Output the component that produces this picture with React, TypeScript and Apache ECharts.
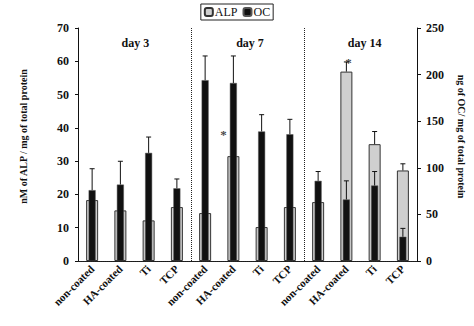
import React, { useEffect, useRef } from "react";
import * as echarts from "echarts";

const categories = [
  "non-coated", "HA-coated", "Ti", "TCP",
  "non-coated", "HA-coated", "Ti", "TCP",
  "non-coated", "HA-coated", "Ti", "TCP",
];
const days = ["day 3", "day 7", "day 14"];
const alp = [18.3, 15.2, 12.2, 16.2, 14.4, 31.5, 10.2, 16.2, 17.7, 56.9, 35.1, 27.2];
const alpErrTop: (number | null)[] = [null, null, null, null, null, null, null, null, null, 59.8, 38.9, 29.2];
const oc = [76, 82, 116, 78, 194, 191, 139, 136, 86, 66, 81, 26];
const ocErrTop = [99, 107, 133, 88, 220, 220, 157, 152, 96, 86, 96, 35];
const stars: [number, number][] = [[5, 39], [9, 60]];
const leftTicks = { min: 0, max: 70, interval: 10 };
const rightTicks = { min: 0, max: 250, interval: 50 };

const FONT = "Liberation Serif";
const GRID = { left: 78, right: 52, top: 28, bottom: 65 };
const WIDTH = 474;
const HEIGHT = 326;
const STAR_OFFSETS = [[-10, 3], [2, 1]];

function errorSeries(top: (number | null)[], base: number[], xi: number, yi: number) {
  return {
    type: "custom",
    xAxisIndex: xi,
    yAxisIndex: yi,
    silent: true,
    z: 5,
    data: top
      .map((t, i) => (t == null ? null : [i, base[i], t]))
      .filter((d) => d !== null),
    renderItem: (params: any, api: any) => {
      const p0 = api.coord([api.value(0), api.value(1)]);
      const p1 = api.coord([api.value(0), api.value(2)]);
      const style = { stroke: "#111", lineWidth: 1 };
      return {
        type: "group",
        children: [
          { type: "line", shape: { x1: p0[0], y1: p0[1], x2: p1[0], y2: p1[1] }, style },
          { type: "line", shape: { x1: p1[0] - 2.5, y1: p1[1], x2: p1[0] + 2.5, y2: p1[1] }, style },
        ],
      };
    },
  };
}

export default function App() {
  const ref = useRef<HTMLDivElement>(null);
  useEffect(() => {
    document.body.style.margin = "0";
    if (!ref.current) return;
    const chart = echarts.init(ref.current, null, { renderer: "svg" });
    const plotW = WIDTH - GRID.left - GRID.right;
    const groupW = plotW / days.length;
    const txt = { fontFamily: FONT, fontWeight: "bold", color: "#111" };
    chart.setOption({
      animation: false,
      backgroundColor: "#fff",
      textStyle: { fontFamily: FONT },
      legend: {
        top: 4,
        left: "center",
        data: ["ALP", "OC"],
        itemWidth: 8,
        itemHeight: 8,
        itemGap: 5,
        padding: [2, 3],
        borderColor: "#222",
        borderWidth: 1,
        textStyle: { fontFamily: FONT, fontSize: 12, color: "#111", padding: [0, 0, 0, -3] },
      },
      grid: { ...GRID, containLabel: false },
      xAxis: [
        {
          type: "category",
          data: categories,
          axisLine: { lineStyle: { color: "#111" } },
          axisTick: { length: 4, lineStyle: { color: "#111" } },
          axisLabel: { rotate: 45, fontSize: 11, margin: 6, interval: 0, ...txt },
          splitLine: {
            show: true,
            interval: (i: number) => i === 4 || i === 8,
            lineStyle: { color: "#222", type: "dotted", width: 1 },
          },
        },
        {
          type: "category",
          data: categories,
          position: "top",
          axisLine: { show: true, lineStyle: { color: "#222", type: "dotted" } },
          axisTick: { show: false },
          axisLabel: { show: false },
        },
      ],
      yAxis: [
        {
          type: "value",
          ...leftTicks,
          name: "nM of ALP / mg of total protein",
          nameLocation: "middle",
          nameGap: 50,
          nameTextStyle: { fontSize: 10, padding: [0, 0, 0, 16], ...txt },
          axisLine: { show: true, lineStyle: { color: "#111" } },
          axisTick: { show: true, length: 3, lineStyle: { color: "#111" } },
          axisLabel: { fontSize: 12, margin: 9, ...txt },
          splitLine: { show: false },
        },
        {
          type: "value",
          ...rightTicks,
          position: "right",
          name: "ng of OC/ mg of total protein",
          nameLocation: "middle",
          nameRotate: -90,
          nameGap: 39,
          nameTextStyle: { fontSize: 10, padding: [0, 16, 0, 0], ...txt },
          axisLine: { show: true, lineStyle: { color: "#111" } },
          axisTick: { show: true, length: 4, lineStyle: { color: "#111" } },
          axisLabel: { fontSize: 12, margin: 9, ...txt },
          splitLine: { show: false },
        },
      ],
      series: [
        {
          name: "ALP",
          type: "bar",
          xAxisIndex: 0,
          yAxisIndex: 0,
          barWidth: 12,
          data: alp,
          z: 2,
          itemStyle: { color: "#cfcfcf", borderColor: "#333", borderWidth: 1 },
        },
        errorSeries(alpErrTop, alp, 0, 0),
        {
          name: "OC",
          type: "bar",
          xAxisIndex: 1,
          yAxisIndex: 1,
          barWidth: 7,
          data: oc,
          z: 3,
          itemStyle: { color: "#111", borderColor: "#555", borderWidth: 0.5 },
        },
        errorSeries(ocErrTop, oc, 1, 1),
        {
          type: "scatter",
          xAxisIndex: 0,
          yAxisIndex: 0,
          symbolSize: 0,
          silent: true,
          z: 6,
          data: stars.map((s, i) => ({
            value: s,
            label: { offset: STAR_OFFSETS[i] },
          })),
          label: {
            show: true,
            position: "inside",
            formatter: "*",
            fontSize: 13,
            ...txt,
          },
        },
      ],
      graphic: days.map((d, g) => ({
        type: "text",
        x: GRID.left + (g + 0.5) * groupW,
        y: 43,
        style: {
          text: d,
          fontFamily: FONT,
          fontWeight: "bold",
          fontSize: 12,
          fill: "#111",
          align: "center",
          verticalAlign: "middle",
        },
      })),
    });
    return () => chart.dispose();
  }, []);
  return <div ref={ref} style={{ width: WIDTH, height: HEIGHT }} />;
}
